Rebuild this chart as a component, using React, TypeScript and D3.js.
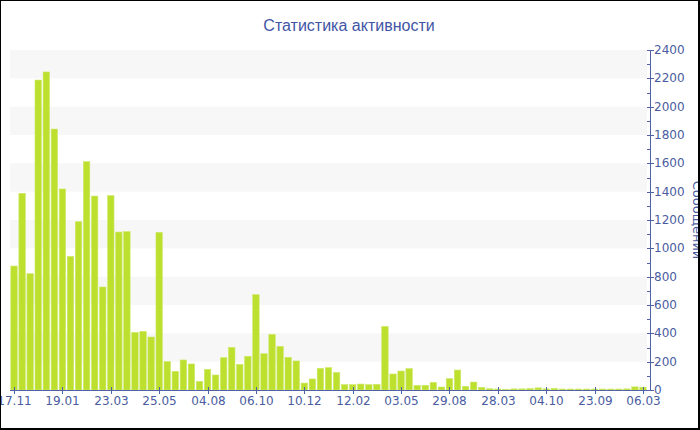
import React from "react";
import * as d3 from "d3";

const title = "Статистика активности";
const yAxisTitle = "Сообщений";

const values: number[] = [
  875, 1388, 821, 2188, 2245, 1842, 1419, 943, 1188, 1612,
  1369, 727, 1372, 1115, 1118, 407, 414, 374, 1113, 200,
  132, 212, 184, 61, 146, 106, 228, 301, 181, 238,
  673, 256, 393, 308, 231, 205, 49, 78, 153, 158,
  124, 38, 38, 42, 38, 40, 449, 113, 134, 151,
  33, 33, 54, 21, 80, 141, 26, 56, 19, 9,
  7, 5, 8, 8, 10, 15, 8, 12, 7, 7,
  7, 7, 7, 7, 7, 7, 8, 22, 20,
];

const tickLabels = [
  "17.11", "19.01", "23.03", "25.05", "04.08", "06.10", "10.12",
  "12.02", "03.05", "29.08", "28.03", "04.10", "23.09", "06.03",
];

const yTicks = [0, 200, 400, 600, 800, 1000, 1200, 1400, 1600, 1800, 2000, 2200, 2400];

const W = 700;
const H = 430;
const left = 10;
const right = 647;
const top = 50;
const bottom = 390;
const axisX = 650;
const axisColor = "#4f62a6";
const textColor = "#4a5ca0";

export default function App() {
  const idx = values.map((_, i) => i);
  const x = d3.scaleBand<number>().domain(idx).range([left, right]).paddingInner(0.2).paddingOuter(0.1);
  const y = d3.scaleLinear().domain([0, 2400]).range([bottom, top]);
  const minor = d3.range(100, 2400, 200);
  const bands = d3.range(0, yTicks.length - 1).filter((i) => i % 2 === 1);

  return (
    <svg width={W} height={H} style={{ position: "absolute", left: 0, top: 0 }} fontFamily="DejaVu Sans">
      <rect x={0} y={0} width={W} height={H} fill="#fff" />
      {bands.map((i) => (
        <rect key={i} x={left} width={right - left} y={y(yTicks[i + 1])} height={y(yTicks[i]) - y(yTicks[i + 1])} fill="#f7f7f7" />
      ))}
      {values.map((v, i) => (
        <rect
          key={i}
          x={x(i)!}
          width={x.bandwidth()}
          y={y(v)}
          height={bottom - y(v)}
          fill="#bde02f"
          stroke="#cde86a"
          strokeWidth={0.6}
        />
      ))}
      <line x1={left} x2={axisX} y1={bottom + 0.5} y2={bottom + 0.5} stroke={axisColor} strokeWidth={1} />
      {tickLabels.map((t, k) => {
        const i = k * 6;
        const cx = Math.round(x(i)! + x.bandwidth() / 2) + 0.5;
        return (
          <g key={t + k}>
            <line x1={cx} x2={cx} y1={bottom - 3} y2={bottom + 4} stroke={axisColor} />
            <text x={cx} y={405} textAnchor="middle" fontSize={12} fill={textColor}>{t}</text>
          </g>
        );
      })}
      <line x1={axisX + 0.5} x2={axisX + 0.5} y1={top} y2={bottom} stroke={axisColor} />
      {minor.map((m) => (
        <line key={m} x1={axisX - 3} x2={axisX} y1={Math.round(y(m)) + 0.5} y2={Math.round(y(m)) + 0.5} stroke={axisColor} />
      ))}
      {yTicks.map((t) => (
        <g key={t}>
          <line x1={axisX - 3} x2={axisX + 4} y1={Math.round(y(t)) + 0.5} y2={Math.round(y(t)) + 0.5} stroke={axisColor} />
          <text x={axisX + 4} y={y(t) + 4} fontSize={12} fill={textColor}>{t}</text>
        </g>
      ))}
      <text transform={`translate(693, ${(top + bottom) / 2}) rotate(90)`} textAnchor="middle" fontSize={13} fill={textColor}>
        {yAxisTitle}
      </text>
      <text x={349} y={31} textAnchor="middle" fontSize={16} fill="#3f55a5" fontFamily="Liberation Sans">
        {title}
      </text>
      <rect x={0} y={0} width={W} height={1} fill="#000" />
      <rect x={0} y={0} width={1} height={H} fill="#000" />
      <rect x={W - 2} y={0} width={2} height={H} fill="#000" />
      <rect x={0} y={H - 2} width={W} height={2} fill="#000" />
    </svg>
  );
}
